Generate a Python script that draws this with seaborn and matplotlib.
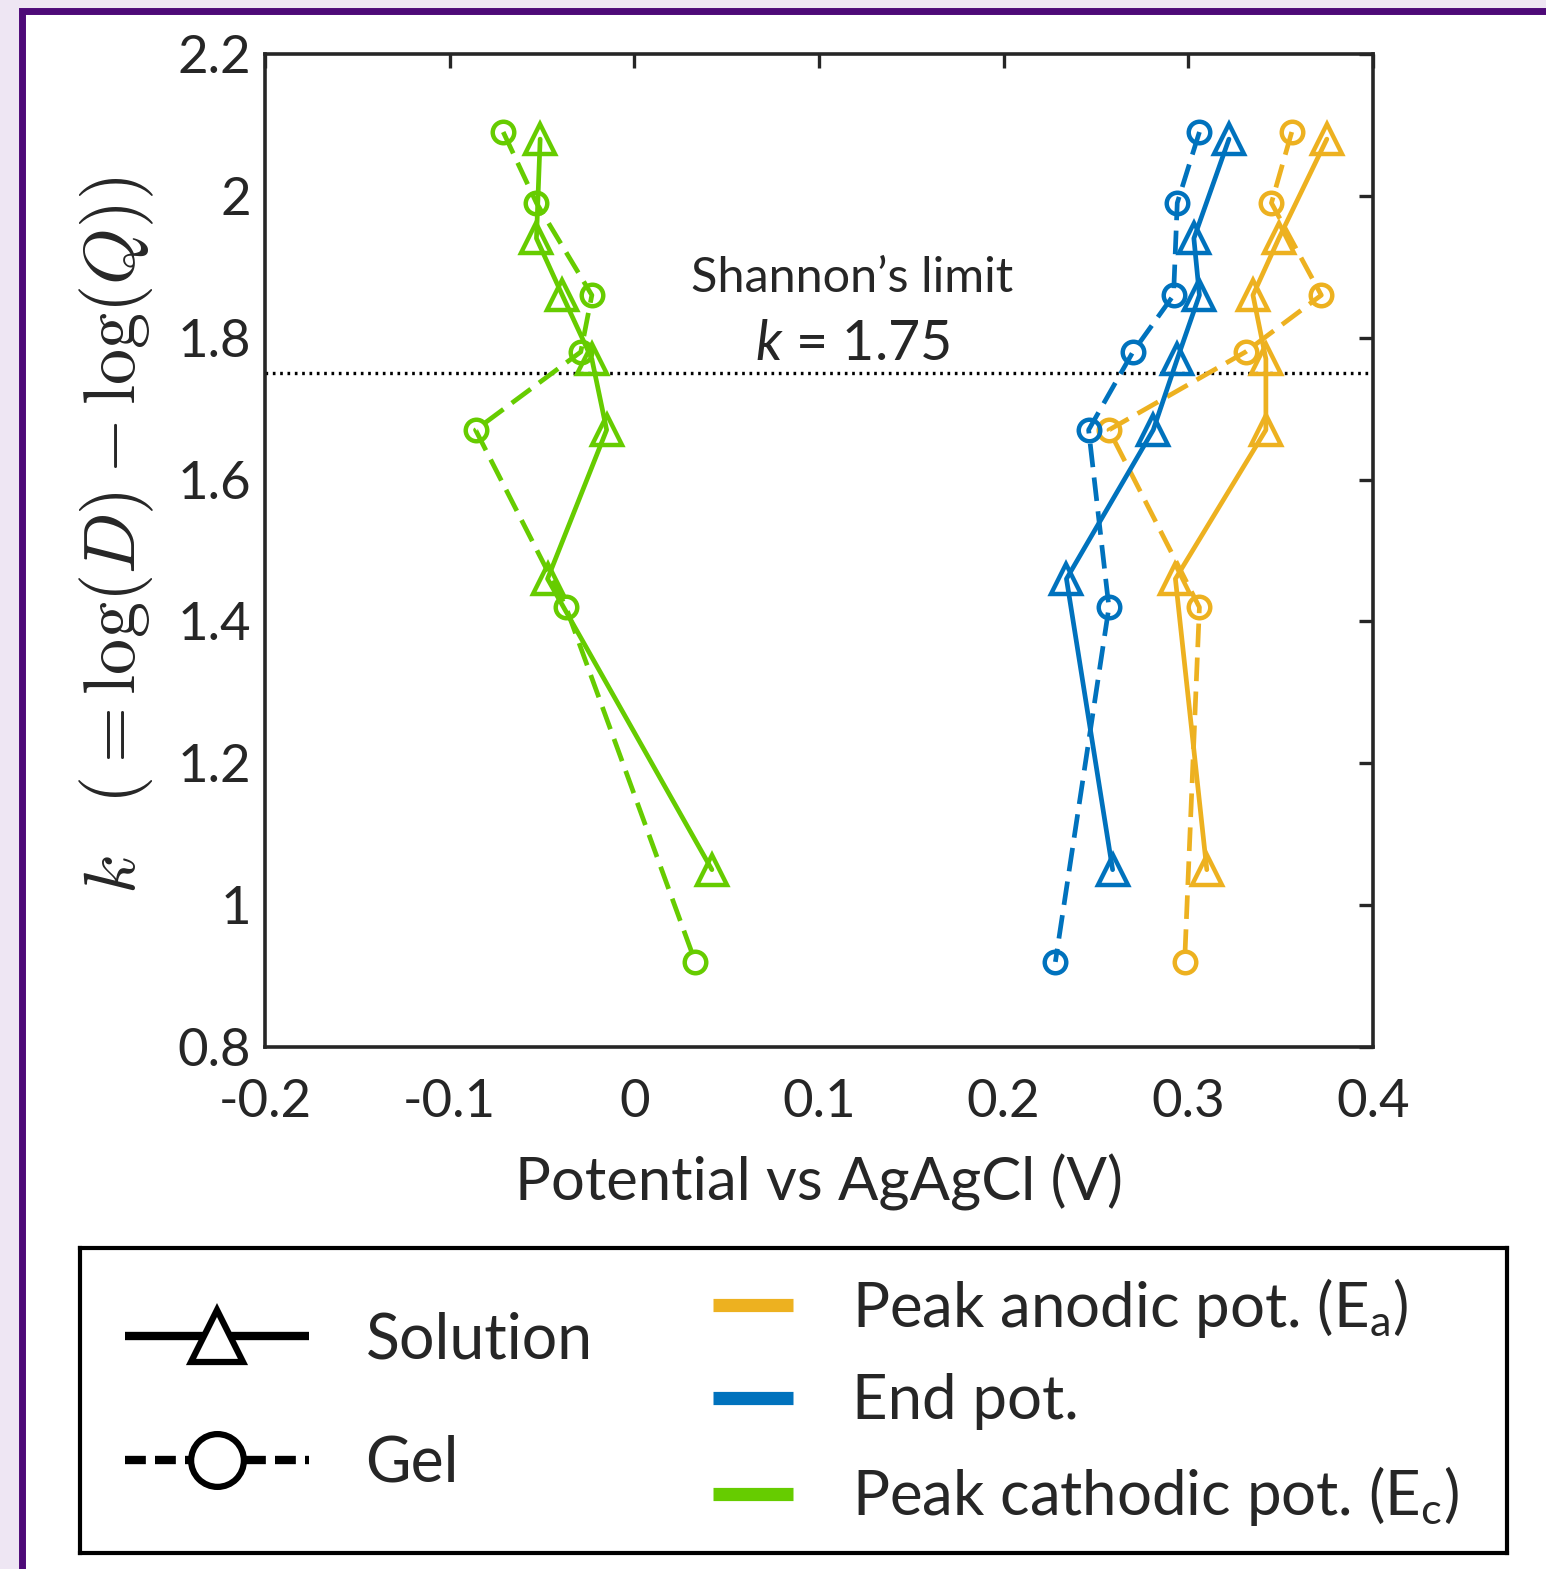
import pandas as pd
import seaborn as sns
import matplotlib.pyplot as plt
from matplotlib.lines import Line2D
from matplotlib.patches import Rectangle

# k values (y) for the two media
k_solution = [2.08, 1.94, 1.86, 1.77, 1.67, 1.46, 1.05]
k_gel = [2.09, 1.99, 1.86, 1.78, 1.67, 1.42, 0.92]

# potentials vs AgAgCl (V)
anodic_solution = [0.375, 0.349, 0.335, 0.342, 0.342, 0.293, 0.310]
anodic_gel = [0.356, 0.345, 0.372, 0.331, 0.257, 0.306, 0.298]
end_solution = [0.322, 0.303, 0.306, 0.294, 0.281, 0.234, 0.259]
end_gel = [0.306, 0.294, 0.292, 0.270, 0.246, 0.257, 0.228]
cathodic_solution = [-0.051, -0.053, -0.039, -0.023, -0.015, -0.047, 0.042]
cathodic_gel = [-0.071, -0.053, -0.023, -0.029, -0.086, -0.037, 0.033]

series_names = ["Peak anodic pot. (E$_\\mathrm{a}$)", "End pot.",
                "Peak cathodic pot. (E$_\\mathrm{c}$)"]
series_colors = ["#EDB120", "#0072BD", "#66CC00"]
media = ["Solution", "Gel"]

x_ticks = [-0.2, -0.1, 0, 0.1, 0.2, 0.3, 0.4]
y_ticks = [0.8, 1, 1.2, 1.4, 1.6, 1.8, 2, 2.2]
shannon_k = 1.75

# long table for seaborn
rows = []
values = {
    (series_names[0], "Solution"): anodic_solution,
    (series_names[0], "Gel"): anodic_gel,
    (series_names[1], "Solution"): end_solution,
    (series_names[1], "Gel"): end_gel,
    (series_names[2], "Solution"): cathodic_solution,
    (series_names[2], "Gel"): cathodic_gel,
}
for (name, medium), pots in values.items():
    ks = k_solution if medium == "Solution" else k_gel
    for e, k in zip(pots, ks):
        rows.append({"E": e, "k": k, "series": name, "medium": medium})
df = pd.DataFrame(rows)

sns.set_style("white")
plt.rcParams["font.family"] = ["Lato", "DejaVu Sans"]
plt.rcParams["mathtext.fontset"] = "custom"
plt.rcParams["mathtext.rm"] = "Lato"
plt.rcParams["mathtext.it"] = "Lato:italic"
plt.rcParams["axes.unicode_minus"] = False

W, H = 1546, 1569
fig = plt.figure(figsize=(W / 100, H / 100), dpi=100, facecolor="#EEE6F3")

# purple panel frame
fig.add_artist(Rectangle((21.5 / W, -0.1), 1.2, (H - 10.5) / H + 0.1,
                         transform=fig.transFigure, facecolor="white",
                         edgecolor="#4E0A78", lw=5, zorder=-1))

ax = fig.add_axes([265 / W, (H - 1047) / H, 1108 / W, 993 / H])
palette = dict(zip(series_names, series_colors))
sns.lineplot(data=df, x="E", y="k", hue="series", style="medium",
             palette=palette, hue_order=series_names, style_order=media,
             markers={"Solution": "^", "Gel": "o"},
             dashes={"Solution": "", "Gel": (5, 2.2)},
             sort=False, estimator=None, legend=False, lw=3.4,
             mfc="none", mew=3.2, ax=ax)
for line in ax.lines:
    line.set_markeredgecolor(line.get_color())
    line.set_markersize(21 if line.get_marker() == "^" else 15.5)

ax.axhline(shannon_k, color="black", ls=(0, (0.8, 1.4)), lw=2.4, zorder=1)
ax.text(0.118, 1.884, "Shannon’s limit", ha="center", va="center", fontsize=35)
ax.text(0.118, 1.790, "$k$ = 1.75", ha="center", va="center", fontsize=40)

ax.set_xlim(-0.2, 0.4)
ax.set_ylim(0.8, 2.2)
ax.set_xticks(x_ticks)
ax.set_yticks(y_ticks)
ax.set_xticklabels([f"{v:g}" for v in x_ticks])
ax.set_yticklabels([f"{v:g}" for v in y_ticks])
ax.tick_params(direction="in", length=10, width=2.4, color="#262626",
               labelsize=38, labelcolor="#262626", top=True, right=True)
ax.tick_params(axis="x", pad=23)
ax.tick_params(axis="y", pad=10)
for sp in ax.spines.values():
    sp.set_linewidth(2.6)
    sp.set_color("#262626")

ax.set_xlabel("Potential vs AgAgCl (V)", fontsize=43, color="#262626", labelpad=20)
ylab = ax.set_ylabel(r"$k\;\;\;(=\log(D)-\log(Q))$", fontsize=52,
                     math_fontfamily="cm")
ax.yaxis.set_label_coords(-0.098, 0.515)

# legend box
lax = fig.add_axes([80 / W, 16 / H, 1427 / W, 305 / H])
lax.set_xticks([])
lax.set_yticks([])
lax.patch.set_alpha(0)
for sp in lax.spines.values():
    sp.set_linewidth(3)
    sp.set_color("black")

style_handles = [
    Line2D([], [], color="black", lw=6, marker="^", ms=38, mfc="white", mew=4.5,
           solid_capstyle="butt"),
    Line2D([], [], color="black", lw=6, ls=(0, (2.5, 1.1)), marker="o", ms=38,
           mfc="white", mew=4.5, dash_capstyle="butt"),
]
leg1 = lax.legend(style_handles, media, loc="center left",
                  bbox_to_anchor=(125 / W, (H - 1402) / H),
                  bbox_transform=fig.transFigure, frameon=False, fontsize=45,
                  handlelength=2.95, handletextpad=0.9, labelspacing=1.05,
                  borderpad=0, borderaxespad=0)
lax.add_artist(leg1)

color_handles = [Line2D([], [], color=c, lw=9.5, solid_capstyle="butt")
                 for c in series_colors]
lax.legend(color_handles, series_names, loc="center left",
           bbox_to_anchor=(713 / W, (H - 1402) / H),
           bbox_transform=fig.transFigure, frameon=False, fontsize=44.5,
           handlelength=1.3, handletextpad=0.95, labelspacing=0.55,
           borderpad=0, borderaxespad=0)

fig.savefig("out.png", dpi=100, facecolor=fig.get_facecolor())
